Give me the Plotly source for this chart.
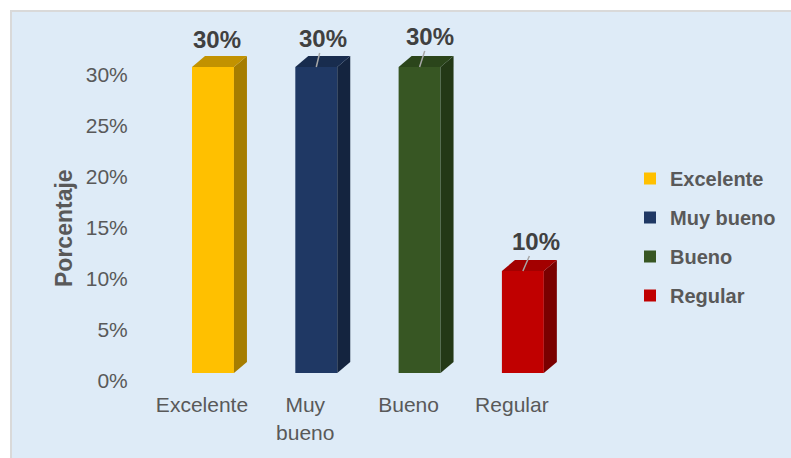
import plotly.graph_objects as go

# ---- data -------------------------------------------------------------
categories = ["Excelente", "Muy bueno", "Bueno", "Regular"]
tick_text = ["Excelente", "Muy<br>bueno", "Bueno", "Regular"]
values = [0.30, 0.30, 0.30, 0.10]
y_ticks = [0, 0.05, 0.10, 0.15, 0.20, 0.25, 0.30]

# colours: front face, side face, top face
front_colors = ["#FFC000", "#1F3864", "#375623", "#C00000"]
side_colors = ["#A67D00", "#14243F", "#233816", "#7A0000"]
top_colors = ["#C29200", "#182C4E", "#2B451B", "#A30000"]

# label offsets (pixels) of the value labels from the top of each bar
label_dx = [4, 7, 10, 13]
label_dy = [-28, -29, -31, -30]
show_leader = [False, True, True, True]

# ---- geometry ---------------------------------------------------------
W, H = 791, 458
L, R, T, B = 140, 217, 22, 85
plot_w = W - L - R
plot_h = H - T - B
px_per_cat = 103.3
px_per_unit = 1020.0          # pixels per 1.0 (=100 %) on the value axis
x_range = [-0.6, -0.6 + plot_w / px_per_cat]
y_range = [0, plot_h / px_per_unit]

bar_width = 0.406
bar_offset = -0.0965           # front face shifted a little right of the tick
depth_x = 13 / px_per_cat      # depth of the 3-D block
depth_y = 11 / px_per_unit

FONT = "Liberation Sans, Arial, sans-serif"
GREY = "#595959"


def paper_x(px):
    return (px - L) / plot_w


def paper_y(py):
    return (H - B - py) / plot_h


fig = go.Figure()

# front faces (also drive the legend)
for i, (cat, v) in enumerate(zip(categories, values)):
    fig.add_trace(go.Bar(
        x=[i], y=[v], width=bar_width, offset=bar_offset,
        name=cat, legendgroup=cat,
        marker=dict(color=front_colors[i], line=dict(width=0)),
        hoverinfo="skip",
    ))

# side and top faces of each block
for i, v in enumerate(values):
    xl = i + bar_offset
    xr = xl + bar_width
    fig.add_trace(go.Scatter(
        x=[xr, xr + depth_x, xr + depth_x, xr, xr],
        y=[0, depth_y, v + depth_y, v, 0],
        fill="toself", fillcolor=side_colors[i], mode="lines",
        line=dict(width=0, color=side_colors[i]),
        showlegend=False, hoverinfo="skip",
    ))
    fig.add_trace(go.Scatter(
        x=[xl, xr, xr + depth_x, xl + depth_x, xl],
        y=[v, v, v + depth_y, v + depth_y, v],
        fill="toself", fillcolor=top_colors[i], mode="lines",
        line=dict(width=0, color=top_colors[i]),
        showlegend=False, hoverinfo="skip",
    ))

# value labels with leader lines
annotations = []
for i, v in enumerate(values):
    annotations.append(dict(
        x=i + bar_offset + bar_width / 2, y=v, xref="x", yref="y",
        text=f"{v:.0%}", showarrow=True, arrowhead=0,
        arrowwidth=1.5,
        arrowcolor="#A6A6A6" if show_leader[i] else "rgba(0,0,0,0)",
        ax=label_dx[i], ay=label_dy[i],
        font=dict(family=FONT, size=24, color="#404040", weight="bold"),
    ))

# value axis title
annotations.append(dict(
    x=paper_x(64), y=paper_y(228), xref="paper", yref="paper",
    text="Porcentaje", textangle=-90, showarrow=False,
    xanchor="center", yanchor="middle",
    font=dict(family=FONT, size=23, color=GREY, weight="bold"),
))

# chart area background with its border
shapes = [dict(
    type="rect", xref="paper", yref="paper", layer="below",
    x0=paper_x(11), x1=paper_x(W + 10), y0=paper_y(H + 10), y1=paper_y(11),
    fillcolor="#DEEBF7", line=dict(color="#D9D9D9", width=2),
)]

fig.update_layout(
    width=W, height=H,
    margin=dict(l=L, r=R, t=T, b=B, pad=0, autoexpand=False),
    paper_bgcolor="white", plot_bgcolor="rgba(0,0,0,0)",
    barmode="overlay",
    font=dict(family=FONT, size=21, color=GREY),
    xaxis=dict(
        range=x_range, tickvals=list(range(len(categories))), ticktext=tick_text,
        showgrid=False, zeroline=False, showline=False, automargin=False,
        ticks="outside", ticklen=13, tickcolor="rgba(0,0,0,0)",
        tickfont=dict(family=FONT, size=21, color=GREY),
        fixedrange=True,
    ),
    yaxis=dict(
        range=y_range, tickvals=y_ticks, tickformat=".0%",
        showgrid=False, zeroline=False, showline=False, automargin=False,
        ticks="outside", ticklen=7, tickcolor="rgba(0,0,0,0)",
        ticklabelshift=8,
        tickfont=dict(family=FONT, size=21, color=GREY),
        fixedrange=True,
    ),
    legend=dict(
        x=paper_x(630), xanchor="left", y=paper_y(237), yanchor="middle",
        bgcolor="rgba(0,0,0,0)", tracegroupgap=10, traceorder="grouped",
        font=dict(family=FONT, size=20, color=GREY, weight="bold"),
    ),
    annotations=annotations,
    shapes=shapes,
    showlegend=True,
)

fig.write_html("out.html")
